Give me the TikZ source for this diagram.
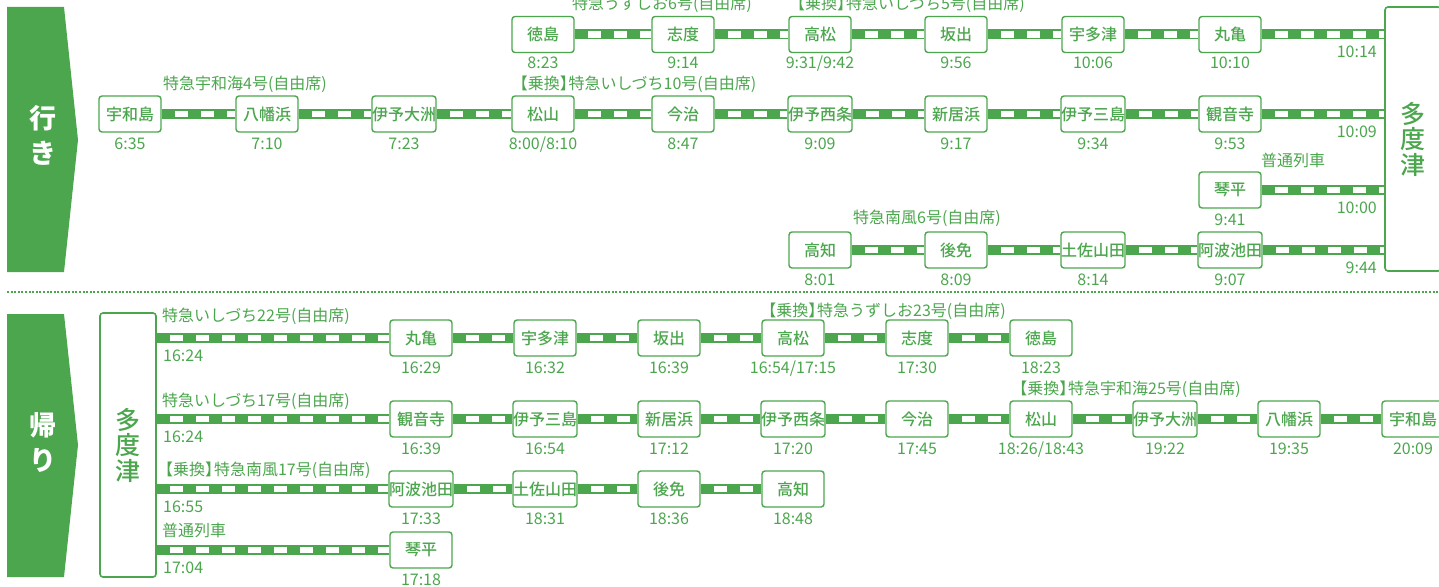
\documentclass[tikz,border=0pt]{standalone}
\usepackage{fontspec}
\setmainfont{Noto Sans CJK JP}
\newfontfamily\jpmed{Noto Sans CJK JP Medium}
\usepackage{tikz}
\definecolor{tgreen}{RGB}{76,166,78}
\newcommand\stnfont{\jpmed\fontsize{16}{16}\selectfont}
\newcommand\tmfont{\fontsize{16}{16}\selectfont}
\newcommand\lblfont{\fontsize{16}{16}\selectfont}
\newcommand\banfont{\bfseries\fontsize{27}{35}\selectfont}
\newcommand\tdfont{\jpmed\fontsize{25}{25.5}\selectfont}
\newcommand\norikae{【乗換】\kern-0.45em}
\tikzset{
    stn/.style={draw=tgreen, line width=1.4pt, rounded corners=3pt, fill=white,
            text=tgreen, minimum width=62pt, minimum height=36pt, inner sep=0pt, font=\stnfont},
    tm/.style={anchor=base, inner sep=0pt, text=tgreen, font=\tmfont},
    lbl/.style={inner sep=0pt, text=tgreen, font=\lblfont},
    rail/.style={draw=tgreen, line width=10pt, shorten <=0.5pt, shorten >=0.5pt,
            postaction={draw=white, line width=6.5pt, dash pattern=on 13pt off 13pt, dash phase=13pt}},
    tdbox/.style={draw=tgreen, line width=1.6pt, rounded corners=3pt, fill=white, text=tgreen,
            minimum width=56pt, minimum height=264pt, inner sep=0pt, align=center, font=\tdfont},
    bantxt/.style={text=white, inner sep=0pt, align=center, font=\banfont},
}

\begin{document}
\begin{tikzpicture}[x=1pt, y=-1pt]
        \useasboundingbox (0,0) rectangle (1439,586);
        %banners
        \fill[tgreen] (7,7) -- (64,7) -- (78,140) -- (64,272) -- (7,272) -- cycle;
        \node[bantxt] at (43,135.5) {行\\き};
        \fill[tgreen] (7,314) -- (64,314) -- (78,445) -- (64,577) -- (7,577) -- cycle;
        \node[bantxt] at (43,442) {帰\\り};
        %separator
        \draw[tgreen, line width=2pt, dash pattern=on 2pt off 1.6pt] (7,292) -- (1439,292);
        %tadotsu boxes
        \node[tdbox] (td1) at (1413,139) {多\\度\\津};
        \node[tdbox] (td2) at (128,445) {多\\度\\津};

        %going, row 1
        \foreach \x/\n/\t [count=\i] in {543/徳島/8:23, 683/志度/9:14, 820/高松/{9:31/9:42},
                956/坂出/9:56, 1093/宇多津/10:06, 1230/丸亀/10:10} {
            \node[stn] (g1-\i) at (\x,34.5) {\n};
            \node[tm] at (\x,69) {\t};
        }
        %going, row 2
        \foreach \x/\n/\t [count=\i] in {130/宇和島/6:35, 267/八幡浜/7:10, 404/伊予大洲/7:23,
                543/松山/{8:00/8:10}, 683/今治/8:47, 820/伊予西条/9:09, 956/新居浜/9:17,
                1093/伊予三島/9:34, 1230/観音寺/9:53} {
            \node[stn] (g2-\i) at (\x,114) {\n};
            \node[tm] at (\x,149) {\t};
        }
        %going, row 3
        \node[stn] (g3-1) at (1230,190) {琴平};
        \node[tm] at (1230,225) {9:41};
        %going, row 4
        \foreach \x/\n/\t [count=\i] in {820/高知/8:01, 956/後免/8:09, 1093/土佐山田/8:14,
                1230/阿波池田/9:07} {
            \node[stn] (g4-\i) at (\x,250) {\n};
            \node[tm] at (\x,285) {\t};
        }
        %going, rails
        \foreach \i [evaluate=\i as \j using int(\i+1)] in {1,...,5}
            \draw[rail] (g1-\i) -- (g1-\j);
        \foreach \i [evaluate=\i as \j using int(\i+1)] in {1,...,8}
            \draw[rail] (g2-\i) -- (g2-\j);
        \foreach \i [evaluate=\i as \j using int(\i+1)] in {1,...,3}
            \draw[rail] (g4-\i) -- (g4-\j);
        \draw[rail] (g1-6) -- (g1-6 -| td1.west);
        \draw[rail] (g2-9) -- (g2-9 -| td1.west);
        \draw[rail] (g3-1) -- (g3-1 -| td1.west);
        \draw[rail] (g4-4) -- (g4-4 -| td1.west);
        %going, arrival times
        \node[tm, anchor=base east] at (1377,57.5) {10:14};
        \node[tm, anchor=base east] at (1377,137) {10:09};
        \node[tm, anchor=base east] at (1377,213) {10:00};
        \node[tm, anchor=base east] at (1377,273) {9:44};
        %going, trains
        \node[lbl] at (662,4.5) {特急うずしお6号(自由席)};
        \node[lbl] at (907,4.5) {\norikae 特急いしづち5号(自由席)};
        \node[lbl] at (245,84) {特急宇和海4号(自由席)};
        \node[lbl] at (634,84.5) {\norikae 特急いしづち10号(自由席)};
        \node[lbl] at (1293,160) {普通列車};
        \node[lbl] at (927,218) {特急南風6号(自由席)};

        %return, row 1
        \foreach \n/\t [count=\i] in {丸亀/16:29, 宇多津/16:32, 坂出/16:39, 高松/{16:54/17:15},
                志度/17:30, 徳島/18:23} {
            \node[stn] (r1-\i) at (297+124*\i,338) {\n};
            \node[tm] at (297+124*\i,373) {\t};
        }
        %return, row 2
        \foreach \n/\t [count=\i] in {観音寺/16:39, 伊予三島/16:54, 新居浜/17:12, 伊予西条/17:20,
                今治/17:45, 松山/{18:26/18:43}, 伊予大洲/19:22, 八幡浜/19:35, 宇和島/20:09} {
            \node[stn] (r2-\i) at (297+124*\i,419) {\n};
            \node[tm] at (297+124*\i,454) {\t};
        }
        %return, row 3
        \foreach \n/\t [count=\i] in {阿波池田/17:33, 土佐山田/18:31, 後免/18:36, 高知/18:48} {
            \node[stn] (r3-\i) at (297+124*\i,489) {\n};
            \node[tm] at (297+124*\i,524) {\t};
        }
        %return, row 4
        \node[stn] (r4-1) at (421,550) {琴平};
        \node[tm] at (421,585) {17:18};
        %return, rails
        \draw[rail] (r1-1 -| td2.east) -- (r1-1);
        \draw[rail] (r2-1 -| td2.east) -- (r2-1);
        \draw[rail] (r3-1 -| td2.east) -- (r3-1);
        \draw[rail] (r4-1 -| td2.east) -- (r4-1);
        \foreach \i [evaluate=\i as \j using int(\i+1)] in {1,...,5}
            \draw[rail] (r1-\i) -- (r1-\j);
        \foreach \i [evaluate=\i as \j using int(\i+1)] in {1,...,8}
            \draw[rail] (r2-\i) -- (r2-\j);
        \foreach \i [evaluate=\i as \j using int(\i+1)] in {1,...,3}
            \draw[rail] (r3-\i) -- (r3-\j);
        %return, departure times
        \node[tm, anchor=base west] at (163,361.5) {16:24};
        \node[tm, anchor=base west] at (163,442.5) {16:24};
        \node[tm, anchor=base west] at (163,512.5) {16:55};
        \node[tm, anchor=base west] at (163,573.5) {17:04};
        %return, trains
        \node[lbl, anchor=west] at (162,316) {特急いしづち22号(自由席)};
        \node[lbl, anchor=west] at (162,401) {特急いしづち17号(自由席)};
        \node[lbl, anchor=west] at (157,470) {\norikae 特急南風17号(自由席)};
        \node[lbl, anchor=west] at (162,530.5) {普通列車};
        \node[lbl] at (883,311) {\norikae 特急うずしお23号(自由席)};
        \node[lbl] at (1126,389) {\norikae 特急宇和海25号(自由席)};
    \end{tikzpicture}
\end{document}
